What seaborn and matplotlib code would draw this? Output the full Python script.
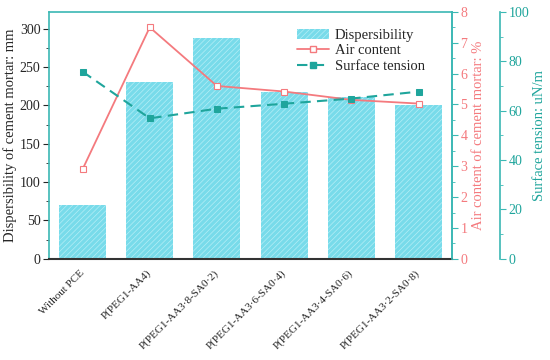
import matplotlib
matplotlib.use('Agg')
import matplotlib.pyplot as plt
import matplotlib.patches as mpatches
import matplotlib.lines as mlines
from matplotlib.ticker import MultipleLocator
import numpy as np
import pandas as pd
import seaborn as sns

samples = ['Without PCE', 'P(PEG1-AA4)', 'P(PEG1-AA3\u00b78-SA0\u00b72)',
           'P(PEG1-AA3\u00b76-SA0\u00b74)', 'P(PEG1-AA3\u00b74-SA0\u00b76)',
           'P(PEG1-AA3\u00b72-SA0\u00b78)']
dispersibility = [70, 231, 288, 218, 211, 201]
air_content = [2.9, 7.5, 5.6, 5.42, 5.15, 5.03]
surface_tension = [75.8, 56.9, 60.8, 62.8, 64.9, 67.7]

df = pd.DataFrame({'sample': samples, 'pos': np.arange(len(samples)),
                   'disp': dispersibility, 'air': air_content,
                   'st': surface_tension})

sns.set_style('ticks')
plt.rcParams['font.family'] = ['Liberation Serif', 'DejaVu Serif']
plt.rcParams['hatch.linewidth'] = 0.5
plt.rcParams['hatch.color'] = '#b5eef6'

teal = '#1fa59c'
frame = '#3bb8b4'
pink = '#f47a7e'
barc = '#78dbea'

fig = plt.figure(figsize=(5.5, 3.6), dpi=100)
ax = fig.add_axes([0.089, 0.281, 0.733, 0.686])

sns.barplot(data=df, x='sample', y='disp', order=samples, color=barc,
            width=0.7, saturation=1, ax=ax)
for p in ax.patches:
    p.set_hatch('//////')
    p.set_edgecolor('#b5eef6')
    p.set_linewidth(0)

ax.set_xlim(-0.5, 5.5)
ax.set_ylim(0, 322)
ax.yaxis.set_major_locator(MultipleLocator(50))
ax.yaxis.set_minor_locator(MultipleLocator(25))
ax.set_ylabel('Dispersibility of cement mortar: mm', fontsize=10.5, labelpad=2)
ax.set_xlabel('')
ax.set_xticks(range(len(samples)))
ax.set_xticklabels(samples, rotation=45, ha='right', va='center',
                   rotation_mode='anchor', fontsize=8)
ax.tick_params(axis='x', length=0, pad=9)
ax.tick_params(axis='y', which='major', length=4, labelsize=10, pad=2)
ax.tick_params(axis='y', which='minor', length=2)
for s in ['left', 'top', 'right']:
    ax.spines[s].set_color(frame)
    ax.spines[s].set_linewidth(1.2)
ax.spines['bottom'].set_color('#333333')
ax.spines['bottom'].set_linewidth(1.5)

ax2 = ax.twinx()
sns.lineplot(data=df, x='pos', y='air', color=pink, marker='s', markersize=5,
             markerfacecolor='white', markeredgecolor=pink, markeredgewidth=0.8,
             linewidth=1.3, sort=False, ax=ax2)
ax2.set_ylim(0, 8)
ax2.yaxis.set_major_locator(MultipleLocator(1))
ax2.yaxis.set_minor_locator(MultipleLocator(0.5))
ax2.set_ylabel('Air content of cement mortar: %', color=pink, fontsize=10.5, labelpad=3)
ax2.tick_params(axis='y', which='major', colors=frame, labelcolor=pink, length=4,
                labelsize=10, pad=2)
ax2.tick_params(axis='y', which='minor', colors=frame, length=2)
for s in ax2.spines.values():
    s.set_visible(False)
ax2.spines['right'].set_visible(True)
ax2.spines['right'].set_color(frame)
ax2.spines['right'].set_linewidth(1.2)

ax3 = ax.twinx()
sns.lineplot(data=df, x='pos', y='st', color=teal, marker='s', markersize=5,
             markerfacecolor=teal, markeredgecolor=teal, linewidth=1.5,
             dashes=(5, 3), sort=False, ax=ax3)
ax3.set_ylim(0, 100)
ax3.yaxis.set_major_locator(MultipleLocator(20))
ax3.yaxis.set_minor_locator(MultipleLocator(10))
ax3.set_ylabel('Surface tension: uN/m', color=teal, fontsize=10.5, labelpad=3)
ax3.tick_params(axis='y', which='major', colors=frame, labelcolor=teal, length=4,
                labelsize=10, pad=2)
ax3.tick_params(axis='y', which='minor', colors=frame, length=2)
for s in ax3.spines.values():
    s.set_visible(False)
ax3.spines['right'].set_visible(True)
ax3.spines['right'].set_position(('outward', 34.5))
ax3.spines['right'].set_color(frame)
ax3.spines['right'].set_linewidth(1.2)
ax3.set_xlim(-0.5, 5.5)

h1 = mpatches.Patch(facecolor=barc, edgecolor='#b5eef6', hatch='//////',
                    linewidth=0, label='Dispersibility')
h2 = mlines.Line2D([], [], color=pink, marker='s', markerfacecolor='white',
                   markersize=5, linewidth=1.3, label='Air content')
h3 = mlines.Line2D([], [], color=teal, marker='s', markersize=5, linewidth=1.5,
                   dashes=(5, 3), label='Surface tension')
ax3.legend(handles=[h1, h2, h3], loc='upper left', bbox_to_anchor=(0.6, 0.955),
           frameon=False, fontsize=10.5, handlelength=2.2, labelspacing=0.15,
           borderaxespad=0, handletextpad=0.4)

fig.savefig('out.png', dpi=100)
